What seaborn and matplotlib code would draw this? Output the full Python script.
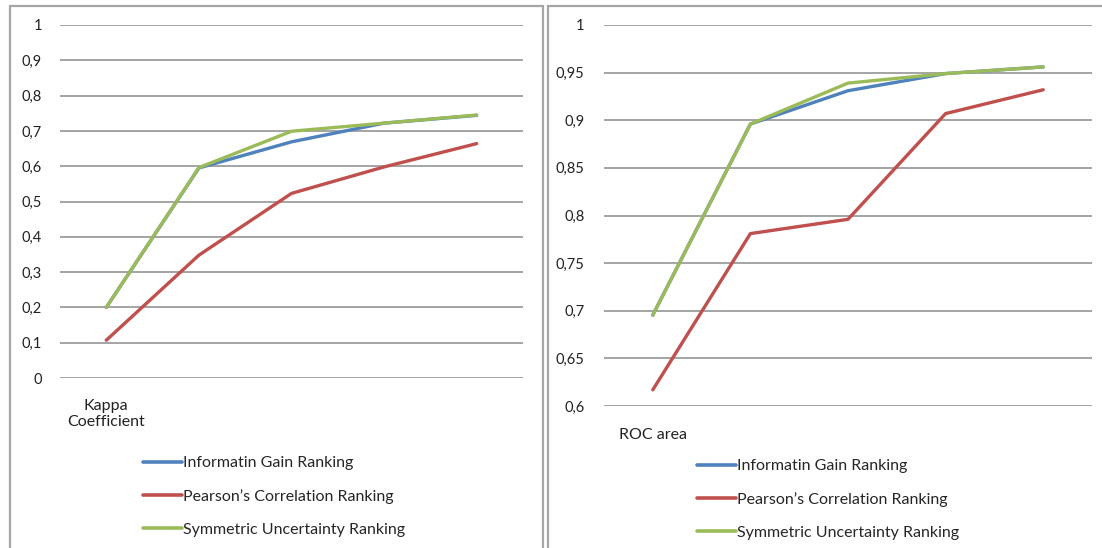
import matplotlib
matplotlib.use("Agg")
import matplotlib.pyplot as plt
import matplotlib.ticker as mticker
from matplotlib.patches import Rectangle
import seaborn as sns
import pandas as pd

sns.set_theme(style="white")
plt.rcParams['font.family'] = ['Lato', 'DejaVu Sans']

series = ["Informatin Gain Ranking", "Pearson\u2019s Correlation Ranking", "Symmetric Uncertainty Ranking"]
colors = ["#4F81BD", "#C0504D", "#9BBB59"]
steps = [0, 1, 2, 3, 4]

kappa_label = "Kappa\nCoefficient"
kappa_info = [0.20, 0.595, 0.669, 0.722, 0.744]
kappa_pearson = [0.107, 0.348, 0.523, 0.598, 0.664]
kappa_symm = [0.20, 0.596, 0.699, 0.722, 0.745]

roc_label = "ROC area"
roc_info = [0.6955, 0.896, 0.931, 0.949, 0.956]
roc_pearson = [0.617, 0.781, 0.796, 0.907, 0.932]
roc_symm = [0.6955, 0.896, 0.939, 0.949, 0.956]

def make_df(vals):
    rows = []
    for name, v in zip(series, vals):
        for s, y in zip(steps, v):
            rows.append({"step": s, "value": y, "series": name})
    return pd.DataFrame(rows)

W, H = 1102, 548
fig = plt.figure(figsize=(W / 100, H / 100), dpi=100)
fig.patch.set_facecolor("white")

# panel frames
for (x0, x1) in [(10, 543), (548, 1110)]:
    fig.patches.append(Rectangle((x0 / W, -0.05), (x1 - x0) / W, 1.05 - 6 / H,
                                 transform=fig.transFigure, fill=False,
                                 edgecolor="#A6A6A6", linewidth=1.6))

fmt = mticker.FuncFormatter(lambda v, p: f"{v:g}".replace(".", ","))

def panel(rect, vals, ylim, yticks, label, label_pad, ypad, leg_xy):
    ax = fig.add_axes(rect)
    df = make_df(vals)
    sns.lineplot(data=df, x="step", y="value", hue="series", hue_order=series,
                 palette=colors, linewidth=2.4, ax=ax, legend=False)
    ax.set_xlim(-0.5, 4.5)
    ax.set_ylim(*ylim)
    ax.set_yticks(yticks)
    ax.yaxis.set_major_formatter(fmt)
    ax.set_xticks([0])
    ax.set_xticklabels([label], linespacing=1.2)
    ax.tick_params(axis="x", length=0, pad=label_pad, labelsize=11.5, colors="#222222")
    ax.tick_params(axis="y", length=0, pad=ypad, labelsize=10.5, colors="#222222")
    for sp in ax.spines.values():
        sp.set_visible(False)
    ax.grid(axis="y", color="#8C8C8C", linewidth=1.1)
    ax.set_axisbelow(True)
    ax.set_xlabel("")
    ax.set_ylabel("")
    handles = [plt.Line2D([], [], color=c, linewidth=2.6) for c in colors]
    fig.legend(handles, series, loc="upper left",
               bbox_to_anchor=(leg_xy[0] / W, 1 - leg_xy[1] / H),
               bbox_transform=fig.transFigure, frameon=False,
               fontsize=11.5, handlelength=2.45, handletextpad=0.08,
               labelspacing=1.18, borderpad=0, borderaxespad=0)
    return ax

panel([60 / W, 1 - 378 / H, 463 / W, 353 / H],
      [kappa_info, kappa_pearson, kappa_symm], (0, 1),
      [0, 0.1, 0.2, 0.3, 0.4, 0.5, 0.6, 0.7, 0.8, 0.9, 1],
      kappa_label, 15, 13, (143, 456))

panel([604 / W, 1 - 406 / H, 488 / W, 381 / H],
      [roc_info, roc_pearson, roc_symm], (0.6, 1),
      [0.6, 0.65, 0.7, 0.75, 0.8, 0.85, 0.9, 0.95, 1],
      roc_label, 16, 14, (697, 459))

fig.savefig("out.png", dpi=100, facecolor="white")
